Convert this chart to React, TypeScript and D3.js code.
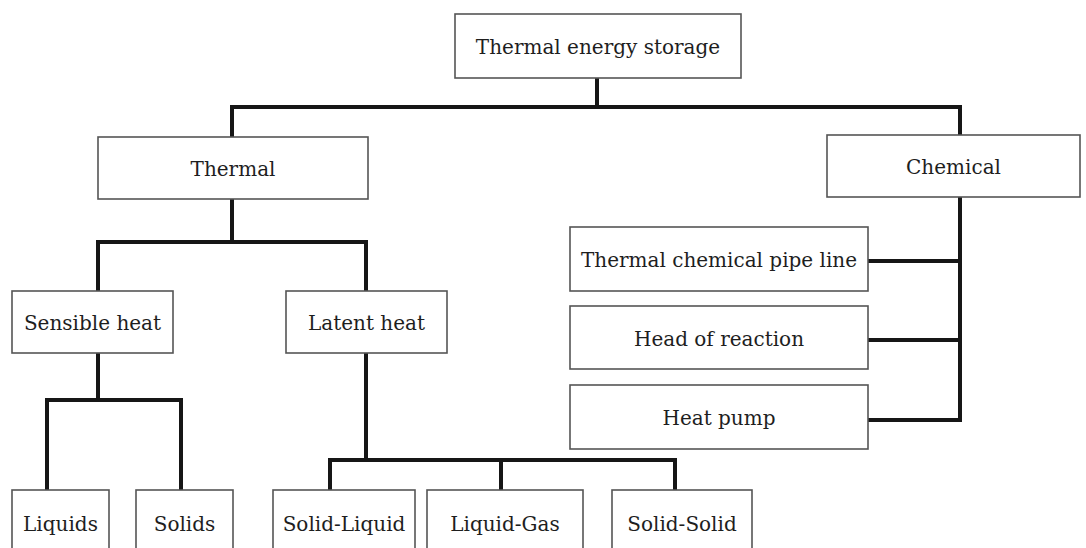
import { useMemo } from 'react'
import * as d3 from 'd3'

// tree content
const nodeNames = [
  'Thermal energy storage',
  'Thermal',
  'Chemical',
  'Sensible heat',
  'Latent heat',
  'Liquids',
  'Solids',
  'Solid-Liquid',
  'Liquid-Gas',
  'Solid-Solid',
  'Thermal chemical pipe line',
  'Head of reaction',
  'Heat pump',
]
const parentNames = [
  '',
  'Thermal energy storage',
  'Thermal energy storage',
  'Thermal',
  'Thermal',
  'Sensible heat',
  'Sensible heat',
  'Latent heat',
  'Latent heat',
  'Latent heat',
  'Chemical',
  'Chemical',
  'Chemical',
]

// layout: box [x0, y0, x1, y1], anchor x where the link meets the box, bus for children
interface Layout { box: [number, number, number, number]; ax: number; ay?: number; bus?: number; side?: boolean }
const LAYOUT: Record<string, Layout> = {
  'Thermal energy storage': { box: [455, 14, 741, 78], ax: 597, bus: 107 },
  'Thermal': { box: [98, 137, 368, 199], ax: 232, bus: 242 },
  'Chemical': { box: [827, 135, 1080, 197], ax: 960, bus: 960, side: true },
  'Sensible heat': { box: [12, 291, 173, 353], ax: 98, bus: 400 },
  'Latent heat': { box: [286, 291, 447, 353], ax: 366, bus: 460 },
  'Liquids': { box: [12, 490, 109, 556], ax: 47 },
  'Solids': { box: [136, 490, 233, 556], ax: 181 },
  'Solid-Liquid': { box: [273, 490, 415, 556], ax: 330 },
  'Liquid-Gas': { box: [427, 490, 583, 556], ax: 501 },
  'Solid-Solid': { box: [612, 490, 752, 556], ax: 675 },
  'Thermal chemical pipe line': { box: [570, 227, 868, 291], ax: 868, ay: 261 },
  'Head of reaction': { box: [570, 306, 868, 369], ax: 868, ay: 340 },
  'Heat pump': { box: [570, 385, 868, 449], ax: 868, ay: 420 },
}

const W = 1086
const H = 548
const FONT = '"DejaVu Serif", serif'

type Row = { name: string; parent: string }

export default function App() {
  const root = useMemo(() => {
    const rows: Row[] = nodeNames.map((n, i) => ({ name: n, parent: parentNames[i] }))
    return d3.stratify<Row>().id(d => d.name).parentId(d => d.parent || null)(rows)
  }, [])

  const links: string[] = []
  root.each(node => {
    if (!node.children) return
    const p = LAYOUT[node.id!]
    const kids = node.children.map(c => LAYOUT[c.id!])
    const path = d3.path()
    if (p.side) {
      // vertical spine on the right, branches go left to the boxes
      const lastY = d3.max(kids, k => k.ay!)!
      path.moveTo(p.bus!, p.box[3])
      path.lineTo(p.bus!, lastY)
      kids.forEach(k => { path.moveTo(p.bus!, k.ay!); path.lineTo(k.ax, k.ay!) })
    } else {
      const [xmin, xmax] = d3.extent(kids, k => k.ax) as [number, number]
      path.moveTo(p.ax, p.box[3])
      path.lineTo(p.ax, p.bus!)
      path.moveTo(xmin, p.bus!)
      path.lineTo(xmax, p.bus!)
      kids.forEach(k => { path.moveTo(k.ax, p.bus!); path.lineTo(k.ax, k.box[1]) })
    }
    links.push(path.toString())
  })

  const nodes = root.descendants()

  return (
    <svg width={W} height={H} style={{ position: 'absolute', left: 0, top: 0, background: '#fff' }}>
      <g>
        {links.map((d, i) => (
          <path key={i} d={d} fill="none" stroke="#161616" strokeWidth={4} strokeLinecap="square" />
        ))}
      </g>
      <g>
        {nodes.map(n => {
          const [x0, y0, x1, y1] = LAYOUT[n.id!].box
          return (
            <g key={n.id}>
              <rect x={x0} y={y0} width={x1 - x0} height={y1 - y0} fill="#fff" stroke="#555" strokeWidth={1.6} />
              <text x={(x0 + x1) / 2} y={(y0 + y1) / 2 + 1} textAnchor="middle" dominantBaseline="central"
                fontFamily={FONT} fontSize={20} fill="#1e1e1e">{n.id}</text>
            </g>
          )
        })}
      </g>
    </svg>
  )
}
